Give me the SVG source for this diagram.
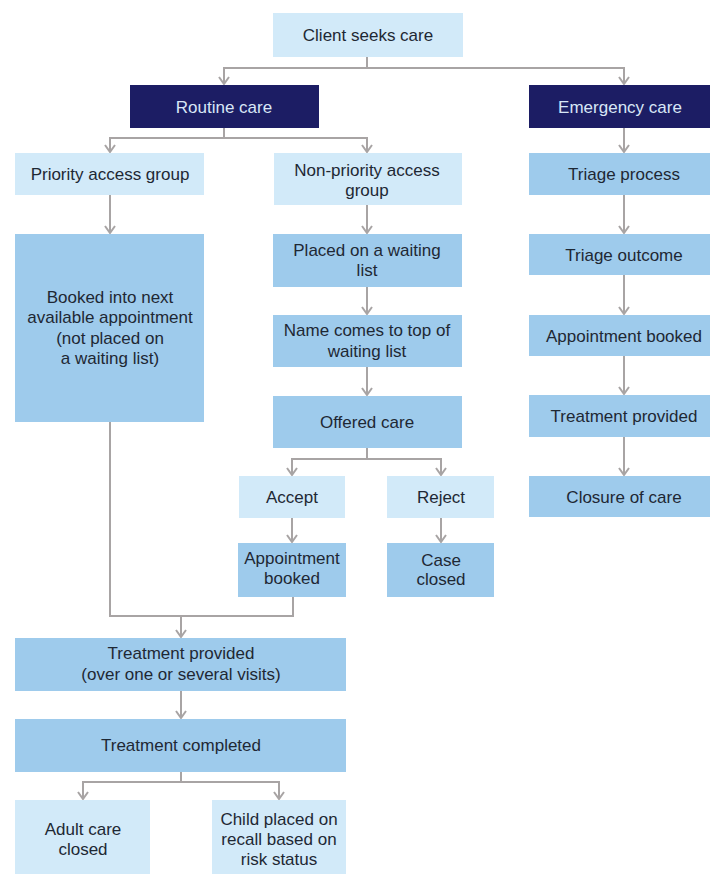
<svg xmlns="http://www.w3.org/2000/svg" width="710" height="874" viewBox="0 0 710 874">
<style>
.lt{fill:#d2eaf9}
.md{fill:#9ecbec}
.dk{fill:#1c1d64}
text{font-family:"Liberation Sans",Arial,sans-serif;font-size:17px;fill:#1e2834;text-anchor:middle}
.wt{fill:#d8e6f6}
.cn{fill:none;stroke:#a8a4a4;stroke-width:2}
</style>
<defs>
<marker id="ad" viewBox="-6 -8 12 9" markerWidth="12" markerHeight="9" refX="0" refY="0" orient="0" markerUnits="userSpaceOnUse">
<path d="M-5,-7 L0,0 L5,-7" fill="none" stroke="#a8a4a4" stroke-width="2"/>
</marker>
</defs>
<rect width="710" height="874" fill="#ffffff"/>
<g id="connectors">
<path class="cn" d="M367,57 V68 H224 V84" marker-end="url(#ad)"/>
<path class="cn" d="M367,68 H624 V84" marker-end="url(#ad)"/>
<path class="cn" d="M224,128 V138 H110 V152" marker-end="url(#ad)"/>
<path class="cn" d="M224,138 H367 V152" marker-end="url(#ad)"/>
<path class="cn" d="M624,128 V152" marker-end="url(#ad)"/>
<path class="cn" d="M110,195 V233" marker-end="url(#ad)"/>
<path class="cn" d="M367,205 V233" marker-end="url(#ad)"/>
<path class="cn" d="M367,287 V314" marker-end="url(#ad)"/>
<path class="cn" d="M367,367 V395" marker-end="url(#ad)"/>
<path class="cn" d="M367,448 V459 H292 V475" marker-end="url(#ad)"/>
<path class="cn" d="M367,459 H441 V475" marker-end="url(#ad)"/>
<path class="cn" d="M292,518 V542" marker-end="url(#ad)"/>
<path class="cn" d="M441,518 V542" marker-end="url(#ad)"/>
<path class="cn" d="M110,422 V616 H293 V597"/>
<path class="cn" d="M181,616 V637" marker-end="url(#ad)"/>
<path class="cn" d="M181,691 V718" marker-end="url(#ad)"/>
<path class="cn" d="M181,772 V782 H83 V799" marker-end="url(#ad)"/>
<path class="cn" d="M181,782 H279 V799" marker-end="url(#ad)"/>
<path class="cn" d="M624,195 V233" marker-end="url(#ad)"/>
<path class="cn" d="M624,275 V314" marker-end="url(#ad)"/>
<path class="cn" d="M624,356 V394" marker-end="url(#ad)"/>
<path class="cn" d="M624,437 V475" marker-end="url(#ad)"/>
</g>
<g id="client"><rect class="lt" x="273" y="13" width="190" height="44"/><text x="368" y="41">Client seeks care</text></g>
<g id="routine"><rect class="dk" x="130" y="85" width="189" height="43"/><text class="wt" x="224" y="113">Routine care</text></g>
<g id="emergency"><rect class="dk" x="529" y="85" width="181" height="43"/><text class="wt" x="620" y="113">Emergency care</text></g>
<g id="priority"><rect class="lt" x="15" y="153" width="189" height="42"/><text x="110" y="180">Priority access group</text></g>
<g id="nonpriority"><rect class="lt" x="274" y="153" width="188" height="52"/><text x="367" y="176">Non-priority access</text><text x="367" y="196">group</text></g>
<g id="booked"><rect class="md" x="15" y="234" width="189" height="188"/><text x="110" y="303">Booked into next</text><text x="110" y="323">available appointment</text><text x="110" y="344">(not placed on</text><text x="110" y="364">a waiting list)</text></g>
<g id="placed"><rect class="md" x="273" y="234" width="189" height="53"/><text x="367" y="256">Placed on a waiting</text><text x="367" y="276">list</text></g>
<g id="namecomes"><rect class="md" x="273" y="315" width="189" height="52"/><text x="367" y="336">Name comes to top of</text><text x="367" y="357">waiting list</text></g>
<g id="offered"><rect class="md" x="273" y="396" width="189" height="52"/><text x="367" y="428">Offered care</text></g>
<g id="accept"><rect class="lt" x="239" y="476" width="106" height="42"/><text x="292" y="503">Accept</text></g>
<g id="reject"><rect class="lt" x="387" y="476" width="107" height="42"/><text x="441" y="503">Reject</text></g>
<g id="apptbooked"><rect class="md" x="238" y="543" width="108" height="54"/><text x="292" y="564">Appointment</text><text x="292" y="584">booked</text></g>
<g id="caseclosed"><rect class="md" x="387" y="543" width="107" height="54"/><text x="441" y="566">Case</text><text x="441" y="585">closed</text></g>
<g id="treatprov"><rect class="md" x="15" y="638" width="331" height="53"/><text x="181" y="659">Treatment provided</text><text x="181" y="680">(over one or several visits)</text></g>
<g id="treatcomp"><rect class="md" x="15" y="719" width="331" height="53"/><text x="181" y="751">Treatment completed</text></g>
<g id="adult"><rect class="lt" x="15" y="800" width="135" height="74"/><text x="83" y="835">Adult care</text><text x="83" y="855">closed</text></g>
<g id="child"><rect class="lt" x="212" y="800" width="134" height="74"/><text x="279" y="825">Child placed on</text><text x="279" y="845">recall based on</text><text x="279" y="865">risk status</text></g>
<g id="triage"><rect class="md" x="529" y="153" width="181" height="42"/><text x="624" y="180">Triage process</text></g>
<g id="triageout"><rect class="md" x="529" y="234" width="181" height="41"/><text x="624" y="261">Triage outcome</text></g>
<g id="eappt"><rect class="md" x="529" y="315" width="181" height="41"/><text x="624" y="342">Appointment booked</text></g>
<g id="etreat"><rect class="md" x="529" y="395" width="181" height="42"/><text x="624" y="422">Treatment provided</text></g>
<g id="closure"><rect class="md" x="529" y="476" width="181" height="41"/><text x="624" y="503">Closure of care</text></g>
</svg>
